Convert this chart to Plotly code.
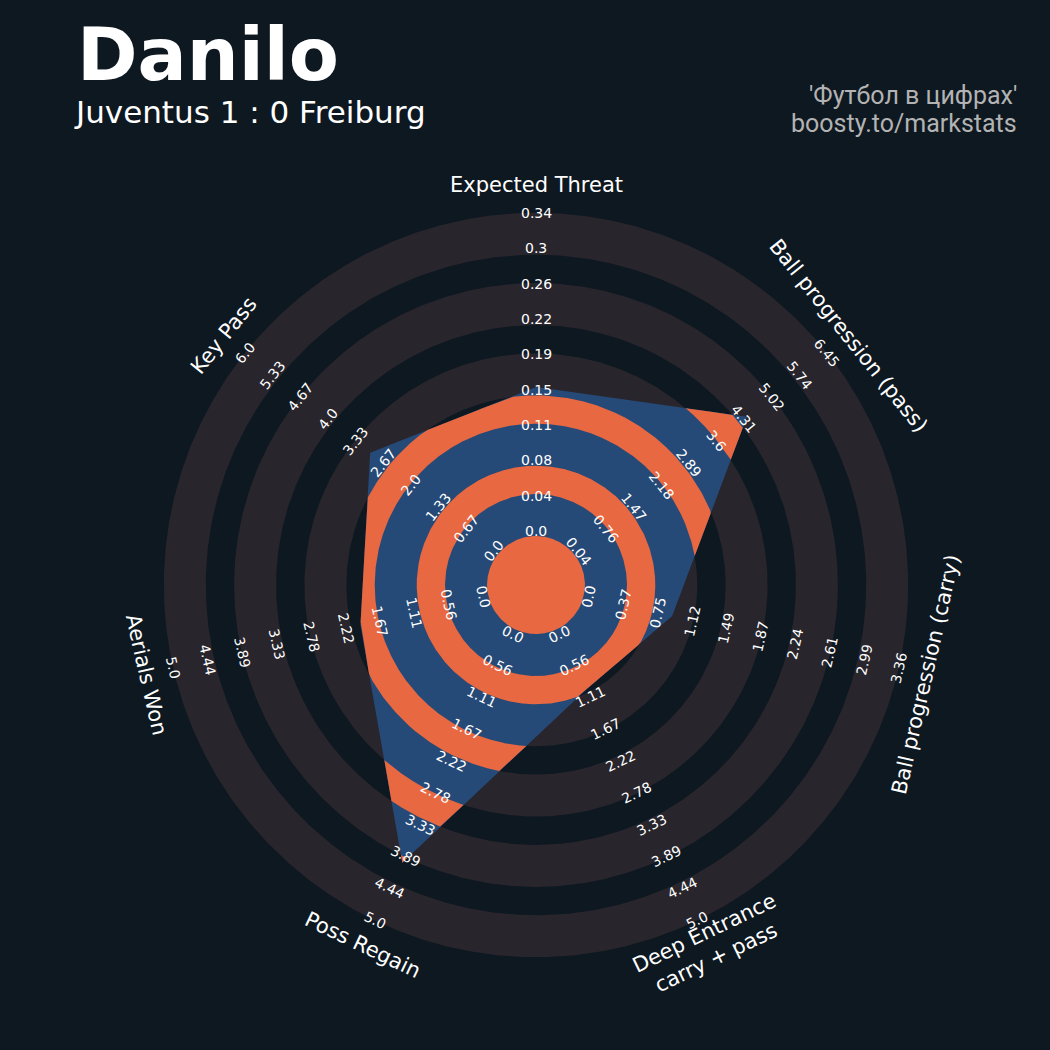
import numpy as np
import plotly.graph_objects as go

# ---------------- data ----------------
params = ['Expected Threat', 'Ball progression (pass)', 'Ball progression (carry)',
          'Deep Entrance<br>carry + pass', 'Poss Regain', 'Aerials Won', 'Key Pass']
values = [0.155, 4.40, 0.92, 1.0, 4.0, 2.0, 3.0]
low = [0.0, 0.04, 0.0, 0.0, 0.0, 0.0, 0.0]
high = [0.34, 6.45, 3.36, 5.0, 5.0, 5.0, 6.0]
tick_labels = [
    ['0.0', '0.04', '0.08', '0.11', '0.15', '0.19', '0.22', '0.26', '0.3', '0.34'],
    ['0.04', '0.76', '1.47', '2.18', '2.89', '3.6', '4.31', '5.02', '5.74', '6.45'],
    ['0.0', '0.37', '0.75', '1.12', '1.49', '1.87', '2.24', '2.61', '2.99', '3.36'],
    ['0.0', '0.56', '1.11', '1.67', '2.22', '2.78', '3.33', '3.89', '4.44', '5.0'],
    ['0.0', '0.56', '1.11', '1.67', '2.22', '2.78', '3.33', '3.89', '4.44', '5.0'],
    ['0.0', '0.56', '1.11', '1.67', '2.22', '2.78', '3.33', '3.89', '4.44', '5.0'],
    ['0.0', '0.67', '1.33', '2.0', '2.67', '3.33', '4.0', '4.67', '5.33', '6.0'],
]
player = 'Danilo'
match = 'Juventus 1 : 0 Freiburg'
credits = ["'Футбол в цифрах'", 'boosty.to/markstats']

# ---------------- style / geometry ----------------
W = H = 1050
CX, CY = 536, 585          # radar centre in page pixels
R_CENTER = 49
R_OUT = 372.2
RING_PERIOD = 70.3
RING_W = 42
N_RINGS = 5
VAL_BASE = 52
LABEL_R0 = 54
LABEL_STEP = (372 - 54) / 9
PARAM_R = 400

BG = '#0e1821'
GRAY = '#28252c'
BLUE = '#264a77'
ORANGE = '#e86842'

n = len(params)
phis = np.arange(n) * 2 * np.pi / n   # clockwise from top


def circle(r, npts=721):
    t = np.linspace(0, 2 * np.pi, npts)
    return list(r * np.sin(t)), list(r * np.cos(t))


def add_fill(xs, ys, color):
    fig.add_trace(go.Scatter(x=xs, y=ys, mode='lines', fill='toself', fillcolor=color,
                             line=dict(width=0), hoverinfo='skip'))


fig = go.Figure()

# background rings as stacked discs (outermost first)
gray_outer = [min(R_CENTER + k * RING_PERIOD + RING_W, R_OUT) for k in range(N_RINGS)]
gap_outer = [R_CENTER + k * RING_PERIOD for k in range(N_RINGS)]
edges = sorted([(r, GRAY) for r in gray_outer] + [(r, BG) for r in gap_outer],
               key=lambda e: -e[0])
for r, col in edges:
    x, y = circle(r)
    add_fill(x, y, col)

# radar polygon
radii = [VAL_BASE + (v - lo) / (hi - lo) * (R_OUT - VAL_BASE)
         for v, lo, hi in zip(values, low, high)]
vx = [r * np.sin(p) for r, p in zip(radii, phis)]
vy = [r * np.cos(p) for r, p in zip(radii, phis)]
add_fill(vx + [vx[0]], vy + [vy[0]], BLUE)

# dense polygon boundary in polar form (closed: last point == first point)
bx, by = [], []
for i in range(n):
    j = (i + 1) % n
    s = np.linspace(0, 1, 800, endpoint=False)
    bx.append(vx[i] + s * (vx[j] - vx[i]))
    by.append(vy[i] + s * (vy[j] - vy[i]))
bx = np.concatenate(bx)
by = np.concatenate(by)
br = np.hypot(bx, by)
bt = np.arctan2(bx, by)
st, ct = np.sin(bt), np.cos(bt)
m = len(br)

# orange bands = (centre disc + ring gaps) clipped to the polygon
bands = [(0.0, R_CENTER)]
for k in range(1, N_RINGS):
    bands.append((R_CENTER + (k - 1) * RING_PERIOD + RING_W, R_CENTER + k * RING_PERIOD))
ox, oy = [], []
for a, b in bands:
    inside = br > a + 0.01
    if not inside.any():
        continue
    if inside.all():
        idx_runs = [np.append(np.arange(m), 0)]
    else:
        start = int(np.argmin(inside))          # an index outside the band
        order = (np.arange(m) + start) % m
        runs, cur = [], []
        for k_ in order:
            if inside[k_]:
                cur.append(k_)
            elif cur:
                runs.append(cur)
                cur = []
        if cur:
            runs.append(cur)
        idx_runs = [np.array(rn) for rn in runs]
    for rn in idx_runs:
        rr = np.clip(br[rn], a, b)
        xs = list(rr * st[rn])
        ys = list(rr * ct[rn])
        if a > 0:
            xs += list((a * st[rn])[::-1])
            ys += list((a * ct[rn])[::-1])
        ox += xs + [None]
        oy += ys + [None]
add_fill(ox, oy, ORANGE)

annotations = []


def rot(phi_deg):
    a = phi_deg - 180 if 90 < phi_deg < 270 else phi_deg
    if a > 180:
        a -= 360
    return a


for i, p in enumerate(phis):
    ang = rot(np.degrees(p))
    for j, lab in enumerate(tick_labels[i]):
        r = LABEL_R0 + j * LABEL_STEP
        annotations.append(dict(x=r * np.sin(p), y=r * np.cos(p), xref='x', yref='y',
                                text=lab, showarrow=False, textangle=ang,
                                xanchor='center', yanchor='middle',
                                font=dict(family='DejaVu Sans', size=14, color='#ffffff')))
    annotations.append(dict(x=PARAM_R * np.sin(p), y=PARAM_R * np.cos(p), xref='x', yref='y',
                            text=params[i], showarrow=False, textangle=ang,
                            xanchor='center', yanchor='middle',
                            font=dict(family='DejaVu Sans', size=21, color='#ffffff')))

annotations.append(dict(x=75 / W, y=1 - 54 / H, xref='paper', yref='paper', text=player,
                        showarrow=False, xanchor='left', yanchor='middle', height=66,
                        valign='middle',
                        font=dict(family='DejaVu Sans', size=73, color='#ffffff', weight='bold')))
annotations.append(dict(x=72 / W, y=1 - 112 / H, xref='paper', yref='paper', text=match,
                        showarrow=False, xanchor='left', yanchor='middle', height=36,
                        valign='middle',
                        font=dict(family='DejaVu Sans', size=31, color='#ffffff')))
for txt, yc in zip(credits, [95, 123.5]):
    annotations.append(dict(x=1019 / W, y=1 - yc / H, xref='paper', yref='paper', text=txt,
                            showarrow=False, xanchor='right', yanchor='middle',
                            font=dict(family='Roboto', size=25, color='#b3b3b3')))

fig.update_layout(
    width=W, height=H,
    margin=dict(l=0, r=0, t=0, b=0),
    paper_bgcolor=BG, plot_bgcolor=BG,
    showlegend=False, hovermode=False,
    xaxis=dict(range=[-CX, W - CX], visible=False, showgrid=False, zeroline=False, fixedrange=True),
    yaxis=dict(range=[CY - H, CY], visible=False, showgrid=False, zeroline=False, fixedrange=True),
    annotations=annotations,
)

fig.write_html('out.html', config={'displayModeBar': False},
               post_script="document.body.style.margin='0px';document.body.style.background='%s';" % BG)
